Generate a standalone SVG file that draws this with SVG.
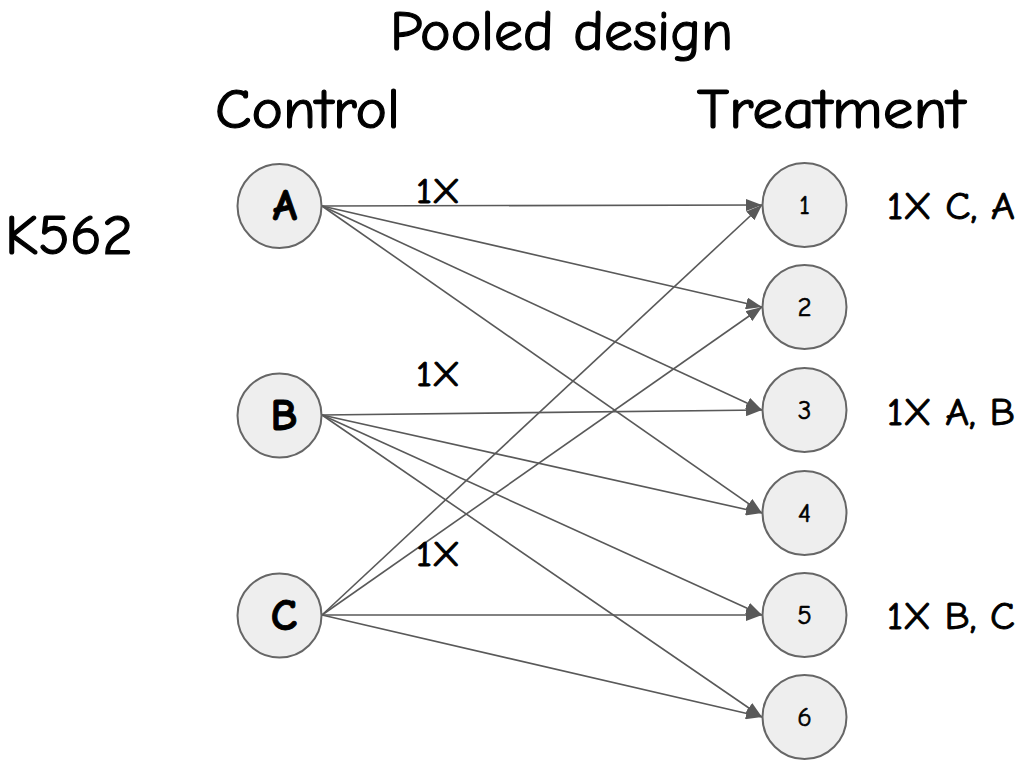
<svg xmlns="http://www.w3.org/2000/svg" width="1026" height="778" viewBox="0 0 1026 778">
<style>
text{font-family:"Comic Sans MS","Comic Neue","DejaVu Sans",sans-serif;fill:#000;stroke:#000;stroke-width:0.9}
.big{font-size:56px;stroke-width:1.2}
.lab{font-size:38px}
.x1{font-size:36px}
.node{fill:#eeeeee;stroke:#666666;stroke-width:2}
.nl{font-size:44px;font-weight:bold;text-anchor:middle}
.nn{font-size:27px;text-anchor:middle;stroke-width:0.6}
.edge{stroke:#595959;stroke-width:1.6;fill:none;marker-end:url(#arr)}
</style>
<defs>
<marker id="arr" viewBox="0 0 16 12" refX="16" refY="6" markerWidth="16" markerHeight="12" markerUnits="userSpaceOnUse" orient="auto">
<path d="M0,0 L16,6 L0,12 z" fill="#595959"/>
</marker>
</defs>
<rect width="1026" height="778" fill="#ffffff"/>
<text class="big" x="390" y="50" textLength="343" lengthAdjust="spacingAndGlyphs">Pooled design</text>
<text class="big" x="215" y="128" textLength="185" lengthAdjust="spacingAndGlyphs">Control</text>
<text class="big" x="697" y="128" textLength="268" lengthAdjust="spacingAndGlyphs">Treatment</text>
<text class="big" x="5" y="254" textLength="128" lengthAdjust="spacingAndGlyphs">K562</text>
<g id="connectors">
<line class="edge" x1="322" y1="206" x2="762" y2="205"/>
<line class="edge" x1="322" y1="206" x2="762" y2="307"/>
<line class="edge" x1="322" y1="206" x2="762" y2="410"/>
<line class="edge" x1="322" y1="206" x2="762" y2="513"/>
<line class="edge" x1="322" y1="415" x2="762" y2="410"/>
<line class="edge" x1="322" y1="415" x2="762" y2="513"/>
<line class="edge" x1="322" y1="415" x2="762" y2="615"/>
<line class="edge" x1="322" y1="415" x2="762" y2="717"/>
<line class="edge" x1="322" y1="615" x2="762" y2="205"/>
<line class="edge" x1="322" y1="615" x2="762" y2="307"/>
<line class="edge" x1="322" y1="615" x2="762" y2="615"/>
<line class="edge" x1="322" y1="615" x2="762" y2="717"/>
</g>
<text class="x1" x="416" y="203" textLength="44" lengthAdjust="spacingAndGlyphs">1X</text>
<text class="x1" x="416" y="386" textLength="44" lengthAdjust="spacingAndGlyphs">1X</text>
<text class="x1" x="416" y="566" textLength="44" lengthAdjust="spacingAndGlyphs">1X</text>
<g id="nodeA"><circle class="node" cx="279.5" cy="206" r="42"/><text class="nl" x="285" y="220">A</text></g>
<g id="nodeB"><circle class="node" cx="279.5" cy="415.5" r="42"/><text class="nl" x="284" y="430">B</text></g>
<g id="nodeC"><circle class="node" cx="279.5" cy="615.5" r="42"/><text class="nl" x="284" y="630">C</text></g>
<g id="node1"><circle class="node" cx="804.5" cy="205" r="42"/><text class="nn" x="804.5" y="214">1</text></g>
<g id="node2"><circle class="node" cx="804.5" cy="307" r="42"/><text class="nn" x="804.5" y="316">2</text></g>
<g id="node3"><circle class="node" cx="804.5" cy="410" r="42"/><text class="nn" x="804.5" y="419">3</text></g>
<g id="node4"><circle class="node" cx="804.5" cy="513" r="42"/><text class="nn" x="804.5" y="522">4</text></g>
<g id="node5"><circle class="node" cx="804.5" cy="615" r="42"/><text class="nn" x="804.5" y="624">5</text></g>
<g id="node6"><circle class="node" cx="804.5" cy="717" r="42"/><text class="nn" x="804.5" y="726">6</text></g>
<text class="lab" x="887" y="219" textLength="128" lengthAdjust="spacingAndGlyphs">1X C, A</text>
<text class="lab" x="887" y="425" textLength="128" lengthAdjust="spacingAndGlyphs">1X A, B</text>
<text class="lab" x="887" y="629" textLength="128" lengthAdjust="spacingAndGlyphs">1X B, C</text>
</svg>
